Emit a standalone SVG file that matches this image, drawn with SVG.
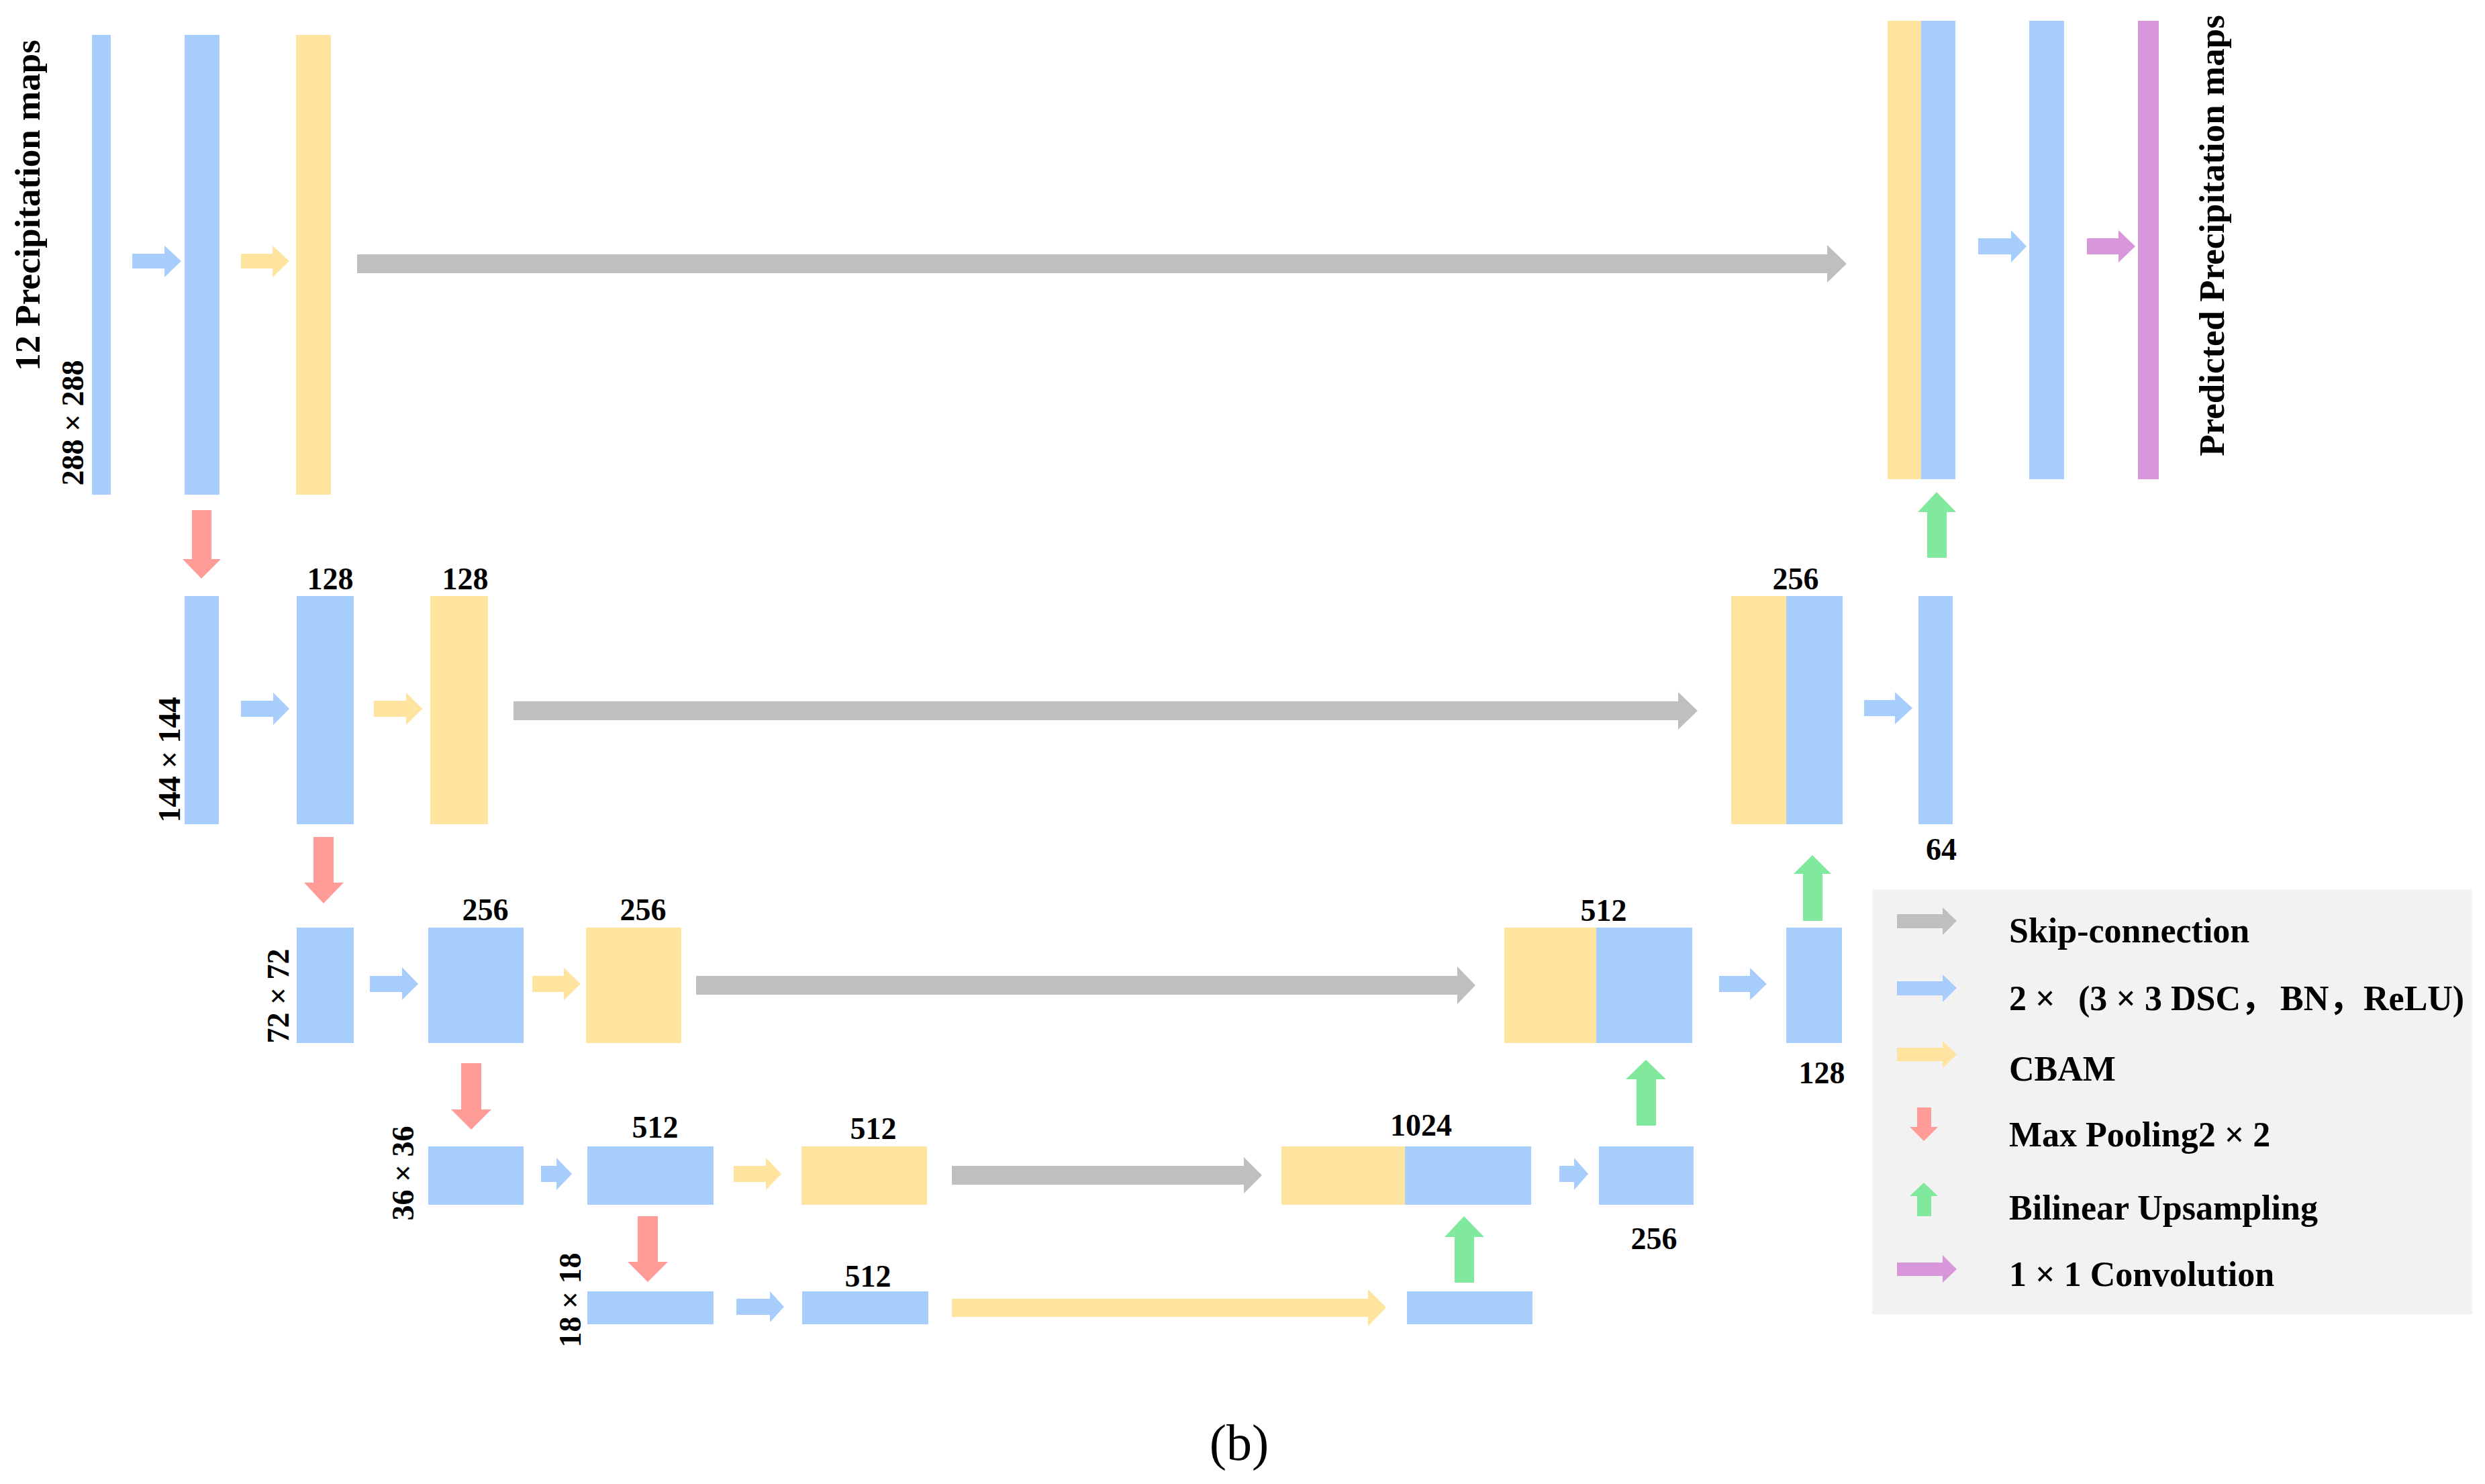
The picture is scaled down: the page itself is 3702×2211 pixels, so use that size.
<svg xmlns="http://www.w3.org/2000/svg" width="3702" height="2211" viewBox="0 0 3702 2211">
<style>
.b{fill:#A7CDFD}.y{fill:#FFE49F}.g{fill:#BFBFBF}.r{fill:#FF9C98}.gr{fill:#80E99D}.p{fill:#D797DA}
text{font-family:"Liberation Serif","Times New Roman",serif;font-weight:bold;fill:#000}
.num{font-size:46px;text-anchor:middle}
.title{font-size:53px;text-anchor:middle}
.leg{font-size:52px}
.cap{font-size:76px;font-weight:normal;text-anchor:middle}
.cjk{font-family:"Liberation Serif","Noto Sans CJK SC",serif}
</style>
<rect width="3702" height="2211" fill="#FFFFFF"/>

<!-- Row 1 -->
<g id="input"><rect class="b" x="137" y="52" width="28" height="685"/></g>
<g id="enc1_conv"><rect class="b" x="275" y="52" width="52" height="685"/></g>
<g id="enc1_cbam"><rect class="y" x="441" y="52" width="52" height="685"/></g>
<g id="dec1_concat"><rect class="y" x="2812" y="31" width="50" height="683"/><rect class="b" x="2862" y="31" width="51" height="683"/></g>
<g id="dec1_conv"><rect class="b" x="3023" y="31" width="52" height="683"/></g>
<g id="output"><rect class="p" x="3185" y="31" width="31" height="683"/></g>

<!-- Row 2 -->
<g id="enc2_in"><rect class="b" x="275" y="888" width="51" height="340"/></g>
<g id="enc2_conv"><rect class="b" x="442" y="888" width="85" height="340"/><text class="num" x="492" y="878">128</text></g>
<g id="enc2_cbam"><rect class="y" x="641" y="888" width="86" height="340"/><text class="num" x="693" y="878">128</text></g>
<g id="dec2_concat"><rect class="y" x="2579" y="888" width="82" height="340"/><rect class="b" x="2661" y="888" width="84" height="340"/><text class="num" x="2675" y="878">256</text></g>
<g id="dec2_conv"><rect class="b" x="2858" y="888" width="51" height="340"/><text class="num" x="2892" y="1281">64</text></g>

<!-- Row 3 -->
<g id="enc3_in"><rect class="b" x="442" y="1382" width="85" height="172"/></g>
<g id="enc3_conv"><rect class="b" x="638" y="1382" width="142" height="172"/><text class="num" x="723" y="1371">256</text></g>
<g id="enc3_cbam"><rect class="y" x="873" y="1382" width="142" height="172"/><text class="num" x="958" y="1371">256</text></g>
<g id="dec3_concat"><rect class="y" x="2241" y="1382" width="137" height="172"/><rect class="b" x="2378" y="1382" width="143" height="172"/><text class="num" x="2389" y="1372">512</text></g>
<g id="dec3_conv"><rect class="b" x="2661" y="1382" width="83" height="172"/><text class="num" x="2714" y="1614">128</text></g>

<!-- Row 4 -->
<g id="enc4_in"><rect class="b" x="638" y="1708" width="142" height="87"/></g>
<g id="enc4_conv"><rect class="b" x="875" y="1708" width="188" height="87"/><text class="num" x="976" y="1695">512</text></g>
<g id="enc4_cbam"><rect class="y" x="1194" y="1708" width="187" height="87"/><text class="num" x="1301" y="1697">512</text></g>
<g id="dec4_concat"><rect class="y" x="1909" y="1708" width="184" height="87"/><rect class="b" x="2093" y="1708" width="188" height="87"/><text class="num" x="2117" y="1692">1024</text></g>
<g id="dec4_conv"><rect class="b" x="2382" y="1708" width="141" height="87"/><text class="num" x="2464" y="1861">256</text></g>

<!-- Row 5 -->
<g id="bott_in"><rect class="b" x="875" y="1924" width="188" height="49"/></g>
<g id="bott_conv"><rect class="b" x="1195" y="1924" width="188" height="49"/><text class="num" x="1293" y="1917">512</text></g>
<g id="bott_up"><rect class="b" x="2096" y="1924" width="187" height="49"/></g>

<!-- Side labels -->
<g id="labels">
<text class="title" transform="translate(59,306) rotate(-90)">12 Precipitation maps</text>
<text class="title" transform="translate(3313,351) rotate(-90)">Predicted Precipitation maps</text>
<text class="num" transform="translate(124,630) rotate(-90)">288 × 288</text>
<text class="num" transform="translate(268,1132) rotate(-90)">144 × 144</text>
<text class="num" transform="translate(430,1484) rotate(-90)">72 × 72</text>
<text class="num" transform="translate(616,1748) rotate(-90)">36 × 36</text>
<text class="num" transform="translate(865,1937) rotate(-90)">18 × 18</text>
<text class="cap" x="1846" y="2175">(b)</text>
</g>

<!-- Connectors -->
<g id="connectors">
<!-- skip connections -->
<polygon class="g" points="532,379 2722,379 2722,365 2751,393 2722,421 2722,407 532,407"/>
<polygon class="g" points="765,1045 2500,1045 2500,1031 2529,1059 2500,1087 2500,1073 765,1073"/>
<polygon class="g" points="1037,1454 2171,1454 2171,1440 2198,1468 2171,1496 2171,1482 1037,1482"/>
<polygon class="g" points="1418,1737 1853,1737 1853,1724 1880,1751 1853,1778 1853,1765 1418,1765"/>
<polygon class="y" points="1418,1935 2038,1935 2038,1921 2065,1948 2038,1976 2038,1962 1418,1962"/>
<!-- conv arrows -->
<polygon class="b" points="197,378 245,378 245,366 270,389 245,413 245,400 197,400"/>
<polygon class="b" points="359,1044 407,1044 407,1032 431,1056 407,1080 407,1068 359,1068"/>
<polygon class="b" points="551,1454 599,1454 599,1441 623,1466 599,1490 599,1478 551,1478"/>
<polygon class="b" points="806,1737 829,1737 829,1725 852,1749 829,1773 829,1761 806,1761"/>
<polygon class="b" points="1097,1935 1147,1935 1147,1924 1168,1947 1147,1970 1147,1959 1097,1959"/>
<polygon class="b" points="2947,355 2996,355 2996,343 3019,367 2996,391 2996,379 2947,379"/>
<polygon class="b" points="2777,1043 2823,1043 2823,1031 2849,1055 2823,1079 2823,1067 2777,1067"/>
<polygon class="b" points="2561,1454 2607,1454 2607,1442 2632,1466 2607,1490 2607,1478 2561,1478"/>
<polygon class="b" points="2323,1737 2345,1737 2345,1725 2366,1749 2345,1773 2345,1761 2323,1761"/>
<!-- CBAM arrows -->
<polygon class="y" points="359,378 406,378 406,366 431,389 406,413 406,400 359,400"/>
<polygon class="y" points="557,1044 605,1044 605,1032 629,1056 605,1080 605,1068 557,1068"/>
<polygon class="y" points="793,1454 840,1454 840,1442 865,1466 840,1490 840,1478 793,1478"/>
<polygon class="y" points="1093,1737 1141,1737 1141,1725 1164,1749 1141,1773 1141,1761 1093,1761"/>
<!-- 1x1 conv -->
<polygon class="p" points="3109,355 3156,355 3156,343 3181,367 3156,391 3156,379 3109,379"/>
<!-- max pooling -->
<polygon class="r" points="286,760 315,760 315,833 329,833 300,862 272,833 286,833"/>
<polygon class="r" points="467,1247 497,1247 497,1315 512,1315 482,1346 453,1315 467,1315"/>
<polygon class="r" points="687,1584 717,1584 717,1653 732,1653 702,1683 672,1653 687,1653"/>
<polygon class="r" points="950,1812 980,1812 980,1880 995,1880 965,1910 935,1880 950,1880"/>
<!-- upsampling -->
<polygon class="gr" points="2871,831 2900,831 2900,763 2914,763 2885,733 2857,763 2871,763"/>
<polygon class="gr" points="2686,1372 2715,1372 2715,1302 2728,1302 2700,1274 2672,1302 2686,1302"/>
<polygon class="gr" points="2438,1677 2467,1677 2467,1608 2482,1608 2452,1579 2422,1608 2438,1608"/>
<polygon class="gr" points="2167,1911 2196,1911 2196,1843 2211,1843 2181,1812 2152,1843 2167,1843"/>
</g>

<!-- Legend -->
<g id="legend">
<rect x="2789" y="1325" width="894" height="633" fill="#F2F2F2"/>
<polygon class="g" points="2826,1362 2894,1362 2894,1352 2915,1372 2894,1393 2894,1383 2826,1383"/>
<polygon class="b" points="2826,1462 2894,1462 2894,1452 2915,1472 2894,1493 2894,1483 2826,1483"/>
<polygon class="y" points="2826,1561 2894,1561 2894,1551 2915,1571 2894,1591 2894,1581 2826,1581"/>
<polygon class="r" points="2856,1650 2877,1650 2877,1679 2887,1679 2866,1700 2845,1679 2856,1679"/>
<polygon class="gr" points="2856,1812 2877,1812 2877,1782 2887,1782 2866,1762 2845,1782 2856,1782"/>
<polygon class="p" points="2826,1881 2894,1881 2894,1870 2915,1891 2894,1911 2894,1901 2826,1901"/>
<text class="leg" x="2993" y="1404">Skip-connection</text>
<text class="leg cjk" y="1505"><tspan x="2993">2 ×</tspan><tspan x="3096">(3 × 3 DSC，</tspan><tspan x="3397">BN，</tspan><tspan x="3521">ReLU)</tspan></text>
<text class="leg" x="2993" y="1610">CBAM</text>
<text class="leg" x="2993" y="1708">Max Pooling2 × 2</text>
<text class="leg" x="2993" y="1817">Bilinear Upsampling</text>
<text class="leg" x="2993" y="1916">1 × 1 Convolution</text>
</g>
</svg>
